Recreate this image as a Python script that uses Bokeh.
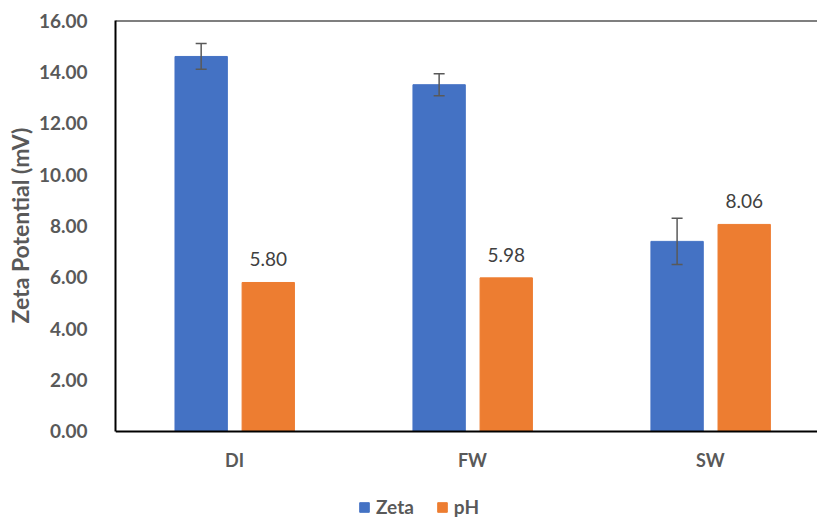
from bokeh.plotting import figure
from bokeh.models import (ColumnDataSource, Range1d, Whisker, TeeHead, LabelSet, Title,
                          Span, Legend, LegendItem, FixedTicker, CustomJSTickFormatter)
from bokeh.core.properties import value
from bokeh.embed import file_html
from bokeh.resources import INLINE

categories = ["DI", "FW", "SW"]
zeta = [14.6, 13.5, 7.4]
zeta_err = [0.5, 0.43, 0.9]
ph = [5.80, 5.98, 8.06]
y_ticks = [0, 2, 4, 6, 8, 10, 12, 14, 16]

BLUE = "#4472C4"
ORANGE = "#ED7D31"
GRAY = "#595959"
FONT = "Lato"

xc = [i + 0.5 for i in range(len(categories))]
src = ColumnDataSource(dict(
    x_z=[x - 0.14 for x in xc],
    x_p=[x + 0.142 for x in xc],
    zeta=zeta,
    up=[z + e for z, e in zip(zeta, zeta_err)],
    lo=[z - e for z, e in zip(zeta, zeta_err)],
    ph=ph,
    ph_lab=[f"{v:.2f}" for v in ph],
))

p = figure(width=817, height=517, output_backend="svg", toolbar_location=None,
           x_range=Range1d(0, 2.95), y_range=Range1d(-3.35, 16),
           min_border_left=115, min_border_top=20, min_border_bottom=0, min_border_right=0)
p.outline_line_color = None
p.xgrid.visible = False
p.ygrid.visible = False
p.background_fill_color = "white"

rz = p.vbar(x="x_z", top="zeta", width=0.22, source=src, color=BLUE)
rp = p.vbar(x="x_p", top="ph", width=0.22, source=src, color=ORANGE)

p.add_layout(Whisker(source=src, base="x_z", upper="up", lower="lo", level="annotation",
                     line_color=GRAY, line_width=1.5,
                     upper_head=TeeHead(size=11, line_color=GRAY, line_width=1.5),
                     lower_head=TeeHead(size=11, line_color=GRAY, line_width=1.5)))

p.add_layout(LabelSet(source=src, x="x_p", y="ph", text="ph_lab", y_offset=16,
                      text_align="center", text_font=value(FONT), text_font_size="19px",
                      text_color="#404040"))

p.add_layout(Span(location=16, dimension="width", line_color="black", line_width=2))

# y axis
p.yaxis.ticker = FixedTicker(ticks=y_ticks)
p.yaxis.bounds = (0, 16)
p.yaxis.formatter = CustomJSTickFormatter(code="return tick.toFixed(2);")
p.yaxis.axis_line_color = "black"
p.yaxis.axis_line_width = 2
p.yaxis.major_tick_line_color = None
p.yaxis.minor_tick_line_color = None
p.yaxis.major_label_text_font = FONT
p.yaxis.major_label_text_font_style = "bold"
p.yaxis.major_label_text_font_size = "19px"
p.yaxis.major_label_text_color = GRAY
p.yaxis.major_label_standoff = 22

# y title as a side title, starting from the bottom with an offset
p.add_layout(Title(text="Zeta Potential (mV)", align="left", offset=194,
                   text_font=FONT, text_font_style="bold",
                   text_font_size="23px", text_color=GRAY, standoff=4), "left")

# x axis, pinned at zero inside the frame
p.xaxis.fixed_location = 0
p.xaxis.ticker = FixedTicker(ticks=xc)
p.xaxis.major_label_overrides = {x: c for x, c in zip(xc, categories)}
p.xaxis.axis_line_color = "black"
p.xaxis.axis_line_width = 2
p.xaxis.major_tick_line_color = None
p.xaxis.minor_tick_line_color = None
p.xaxis.major_label_text_font = FONT
p.xaxis.major_label_text_font_style = "bold"
p.xaxis.major_label_text_font_size = "18px"
p.xaxis.major_label_text_color = GRAY
p.xaxis.major_label_standoff = 12

legend = Legend(items=[LegendItem(label="Zeta", renderers=[rz]),
                       LegendItem(label="pH", renderers=[rp])],
                orientation="horizontal", location=(243, -1),
                label_text_font=FONT, label_text_font_style="bold",
                label_text_font_size="19px", label_text_color=GRAY,
                glyph_width=12, glyph_height=12, spacing=22, label_standoff=6,
                border_line_color=None, background_fill_alpha=0,
                margin=0, padding=4)
p.add_layout(legend, "center")

open("out.html", "w").write(file_html(p, INLINE))
